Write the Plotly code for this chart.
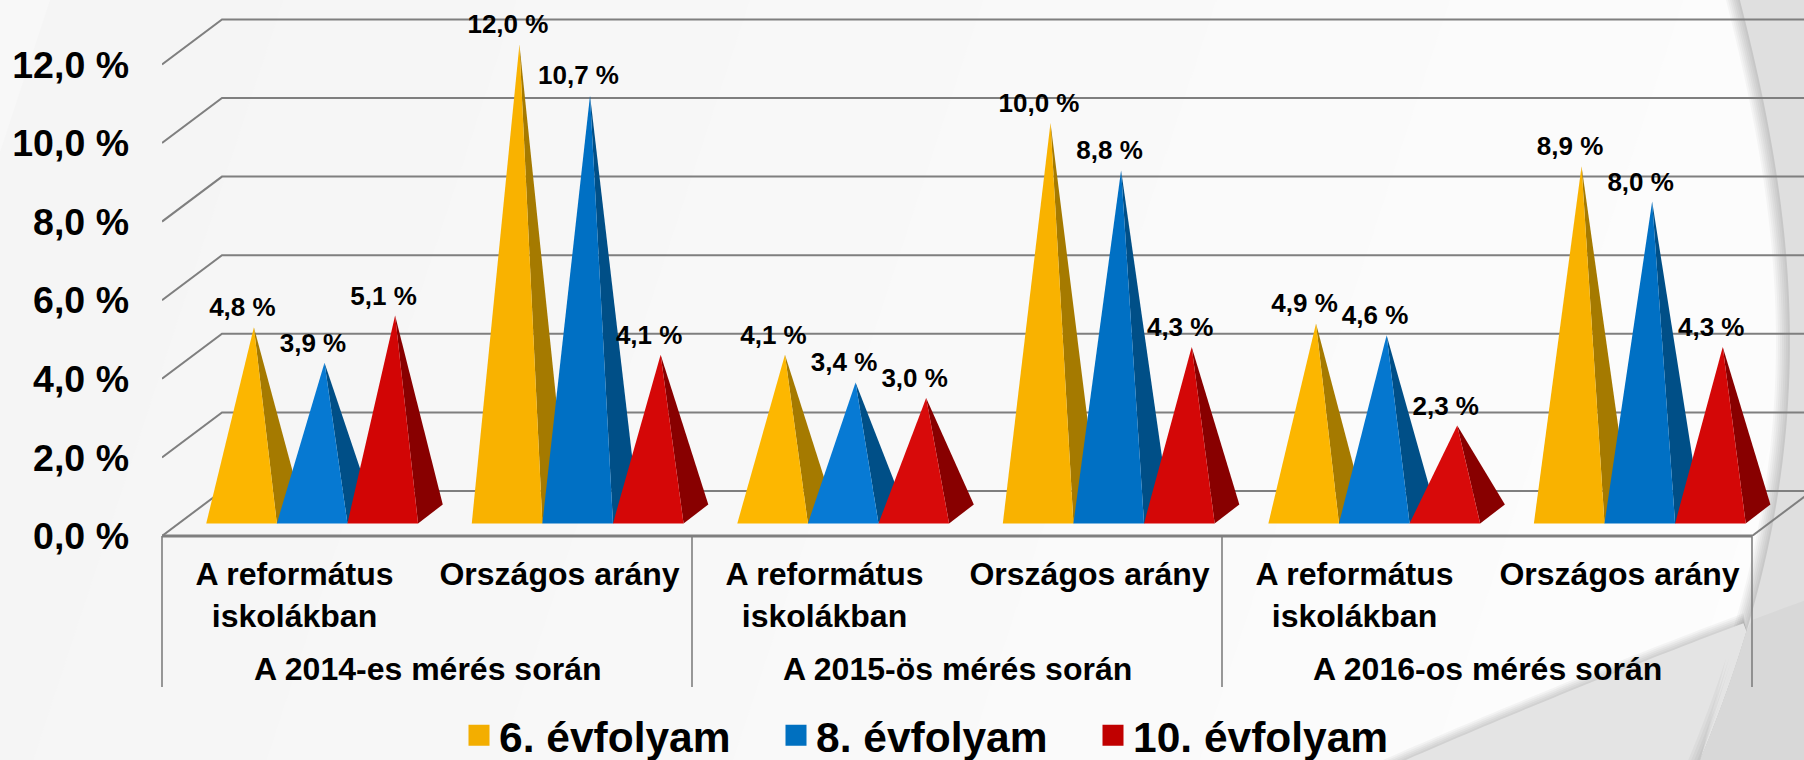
import numpy as np
import plotly.graph_objects as go

# ---------- data ----------
years = ["A 2014-es mérés során", "A 2015-ös mérés során", "A 2016-os mérés során"]
categories = ["A református<br>iskolákban", "Országos arány"] * 3
series_names = ["6. évfolyam", "8. évfolyam", "10. évfolyam"]
grade6 = [4.8, 12.0, 4.1, 10.0, 4.9, 8.9]
grade8 = [3.9, 10.7, 3.4, 8.8, 4.6, 8.0]
grade10 = [5.1, 4.1, 3.0, 4.3, 2.3, 4.3]
y_ticks = [0, 2, 4, 6, 8, 10, 12]
y_labels = ["0,0 %", "2,0 %", "4,0 %", "6,0 %", "8,0 %", "10,0 %", "12,0 %"]

FONT = "Liberation Sans"
GRID = "#7f7f7f"
LEGEND_COL = ["#f3ae00", "#0070c0", "#c00000"]
# front colour for short / tall pyramids, side colour
FRONT = [("#ffb900", "#f9b200"), ("#087bd6", "#0070c4"), ("#d80a0a", "#cc0000")]
SIDE = ["#a57a00", "#004f87", "#880000"]

# ---------- page geometry ----------
W, H = 1804, 760
L, BOT = 162, 536            # plot area left edge and bottom edge on the page
PX_X, PX_Y = 265.0, 39.3     # pixels per category and per percent
XMAX, YMAX = (W - L) / PX_X, BOT / PX_Y
DX, DY = 60 / PX_X, 45 / PX_Y  # oblique depth of the floor in data units
SLOT = 70.6 / PX_X
PERIOD = 1.002
PAD = (1 - 3 * SLOT) / 2
Z0, Z1 = 0.28, 0.70
APEX_DY = 20 / PX_Y
LABEL_DX, LABEL_DY = -11.5 / PX_X, 17.5 / PX_Y


def px(x):
    return (x - L) / (W - L)


def py(y):
    return (BOT - y) / BOT


def hexmix(a, b, t):
    ca = [int(a[i:i + 2], 16) for i in (1, 3, 5)]
    cb = [int(b[i:i + 2], 16) for i in (1, 3, 5)]
    return "#%02x%02x%02x" % tuple(round(p + (q - p) * t) for p, q in zip(ca, cb))


def poly(points, fill, opacity=1.0):
    d = "M " + " L ".join(f"{px(x):.5f},{py(y):.5f}" for x, y in points) + " Z"
    return dict(type="path", xref="paper", yref="paper", path=d, fillcolor=fill,
                opacity=opacity, line=dict(width=0), layer="below")


# ---------- slide background (bands and swooshes) ----------
shapes = []
levels = list(range(245, 254))
for i, lv in enumerate(levels):
    x0 = -200 + i * 2100 / len(levels)
    x1 = x0 + 2100 / len(levels) + 2
    c = f"#{lv:02x}{lv:02x}{lv:02x}"
    shapes.append(poly([(x0, 760), (x1, 760), (x1 + 250, 0), (x0 + 250, 0)], c))

ys = np.array([0, 100, 167, 250, 333, 417, 500, 533, 600, 623, 693, 760.0])
xs = np.array([1740, 1763, 1775, 1787, 1789, 1787, 1778, 1770, 1757, 1747, 1727, 1700.0])
up = np.poly1d(np.polyfit(ys, xs, 4))
lx = np.array([1804, 1747, 1647, 1547, 1413.0])
ly = np.array([600, 623, 660, 700, 757.0])
lo = np.poly1d(np.polyfit(lx, ly, 2))
yy = np.linspace(0, 760, 60)
xx = np.linspace(1380, 1804, 50)
cross_y = 623

# shadow and fill right of the arc
for d in range(14, 0, -2):
    shapes.append(poly([(float(up(v)) - d, v) for v in yy] + [(1804, 760), (1804, 0)], "#000000", 0.03))
shapes.append(poly([(float(up(v)), v) for v in yy] + [(1804, 760), (1804, 0)], "#dfdfdf"))

# shadow and fill below the lower swoosh
upper_left = [(x, float(lo(x))) for x in xx if x <= float(up(cross_y))]
for d in range(10, 0, -2):
    pts = [(x, float(lo(x)) - d) for x in xx if x <= float(up(cross_y))]
    pts += [(float(up(v)), v) for v in yy if v >= cross_y]
    pts += [(1380, 760)]
    shapes.append(poly(pts, "#000000", 0.035))
shapes.append(poly(upper_left + [(float(up(v)), v) for v in yy if v >= cross_y] + [(1380, 760)], "#e4e4e4"))
# lower right corner
corner = [(float(up(v)), v) for v in yy if v >= cross_y] + [(1804, 760)]
corner += [(x, float(lo(x))) for x in xx[::-1] if x >= float(up(cross_y))]
for d in range(12, 0, -3):
    shapes.append(poly([(float(up(v)) - d, v) for v in yy if v >= cross_y + 30] + [(float(up(760)), 760)],
                       "#000000", 0.03))
shapes.append(poly(corner, "#d8d8d8"))

# axis frame, below the plot
for k in [0, 2, 4, 6]:
    shapes.append(dict(type="line", xref="paper", yref="paper", x0=k / XMAX, x1=k / XMAX,
                       y0=0, y1=py(687), line=dict(color=GRID, width=1.6), layer="below"))
shapes.append(dict(type="line", xref="paper", yref="paper", x0=0, x1=6 / XMAX, y0=0, y1=0,
                   line=dict(color=GRID, width=3), layer="below"))

fig = go.Figure()

# ---------- walls ----------
for v in y_ticks:
    fig.add_trace(go.Scatter(x=[0, DX, XMAX], y=[v, v + DY, v + DY], mode="lines",
                             line=dict(color=GRID, width=2), hoverinfo="skip", showlegend=False))
fig.add_trace(go.Scatter(x=[6, 6 + DX], y=[0, DY], mode="lines",
                         line=dict(color=GRID, width=2), hoverinfo="skip", showlegend=False))

# ---------- pyramids ----------
all_series = [grade6, grade8, grade10]
for s, vals in enumerate(all_series):
    for c, v in enumerate(vals):
        x0 = c * PERIOD + PAD + s * SLOT
        x1 = x0 + SLOT
        apex = (x0 + SLOT / 2 + DX * 0.5, v + APEX_DY)
        br_f = (x1 + DX * 0.294, DY * Z0)
        bl_f = (x0 + DX * 0.294, DY * Z0)
        br_b = (x1 + DX * 0.706, DY * Z1)
        t = min(1.0, max(0.0, (v - 3) / 4))
        front = hexmix(FRONT[s][0], FRONT[s][1], t)
        for pts, col in (([br_f, br_b, apex], SIDE[s]), ([bl_f, br_f, apex], front)):
            fig.add_trace(go.Scatter(x=[p[0] for p in pts] + [pts[0][0]],
                                     y=[p[1] for p in pts] + [pts[0][1]],
                                     mode="lines", fill="toself", fillcolor=col,
                                     line=dict(width=0), hoverinfo="skip", showlegend=False))

# ---------- value labels ----------
for s, vals in enumerate(all_series):
    fig.add_trace(go.Scatter(
        x=[c * PERIOD + PAD + s * SLOT + SLOT / 2 + DX * 0.5 + LABEL_DX for c in range(6)],
        y=[v + APEX_DY + LABEL_DY for v in vals],
        mode="text", text=[f"{v:.1f} %".replace(".", ",") for v in vals],
        textposition="middle center", cliponaxis=False,
        textfont=dict(family=FONT, size=26, color="#000000", weight=700),
        hoverinfo="skip", showlegend=False))

# ---------- legend ----------
for name, col in zip(series_names, LEGEND_COL):
    fig.add_trace(go.Scatter(x=[None], y=[None], mode="markers", name=name,
                             marker=dict(symbol="square", size=22, color=col, line=dict(color=col, width=5))))

# ---------- year labels ----------
annotations = [dict(text=t, xref="x", yref="paper", x=2 * i + 1, y=py(669), showarrow=False,
                    xanchor="center", yanchor="middle",
                    font=dict(family=FONT, size=32, color="#000000", weight=700))
               for i, t in enumerate(years)]

fig.update_layout(
    width=W, height=H, autosize=False,
    margin=dict(l=L, r=0, t=0, b=H - BOT, pad=0, autoexpand=False),
    paper_bgcolor="#f8f8f8", plot_bgcolor="rgba(0,0,0,0)",
    shapes=shapes, annotations=annotations, hovermode=False,
    legend=dict(orientation="h", x=px(459), xanchor="left", y=py(701), yanchor="top",
                bgcolor="rgba(0,0,0,0)", itemsizing="trace", entrywidth=272, entrywidthmode="pixels",
                font=dict(family=FONT, size=42.5, color="#000000", weight=700)),
    xaxis=dict(range=[0, XMAX], tickmode="array", tickvals=[i + 0.5 for i in range(6)], ticktext=categories,
               showgrid=False, zeroline=False, showline=False, ticks="", ticklabelstandoff=16,
               tickangle=0, tickfont=dict(family=FONT, size=32, color="#000000", weight=700)),
    yaxis=dict(range=[0, YMAX], tickmode="array", tickvals=y_ticks, ticktext=y_labels,
               showgrid=False, zeroline=False, showline=False, ticks="", ticklabelstandoff=32,
               tickfont=dict(family=FONT, size=37.5, color="#000000", weight=700)),
)
fig.write_html("out.html", config=dict(displayModeBar=False),
               post_script="document.body.style.margin='0';document.body.style.overflow='hidden';")
